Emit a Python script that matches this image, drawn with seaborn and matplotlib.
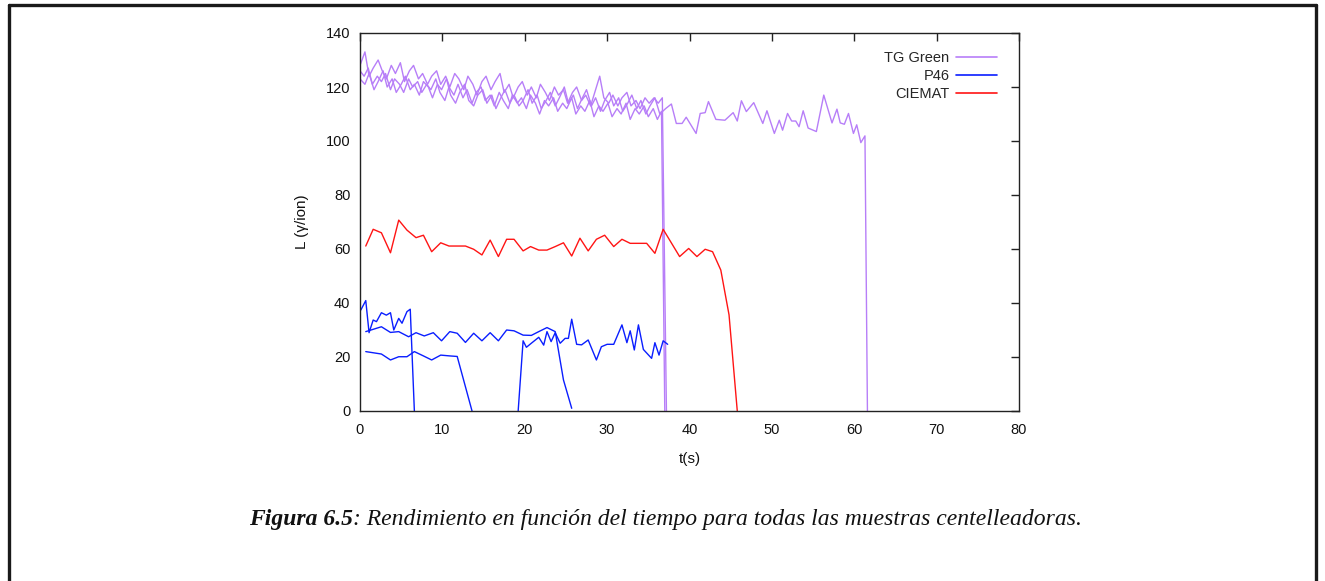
import matplotlib
matplotlib.use("Agg")
import matplotlib.pyplot as plt
from matplotlib.lines import Line2D
import seaborn as sns
import pandas as pd

# ---------------- data ----------------
# TG Green: three runs
tg1_t = [0.0, 0.6, 1.1, 1.6, 2.2, 2.7, 3.2, 3.8, 4.3, 4.9, 5.4, 6.0, 6.5, 7.1, 7.6, 8.2, 8.7, 9.3, 9.8,
         10.4, 10.9, 11.5, 12.0, 12.6, 13.1, 13.7, 14.2, 14.8, 15.3, 15.9, 16.4, 17.0, 17.5, 18.1, 18.6,
         19.2, 19.7, 20.3, 20.8, 21.4, 21.9, 22.5, 23.0, 23.6, 24.1, 24.7, 25.2, 25.8, 26.3, 26.9, 27.4,
         28.0, 28.5, 29.1, 29.6, 30.2, 30.7, 31.3, 31.8, 32.4, 32.9, 33.5, 34.0, 34.6, 35.1, 35.7, 36.2,
         36.7, 37.2]
tg1_L = [128, 133, 124, 127, 130, 126, 123, 128, 125, 129, 122, 126, 128, 123, 125, 121, 124, 126, 121,
         124, 120, 125, 123, 119, 124, 121, 117, 122, 124, 119, 122, 125, 118, 121, 116,
         120, 122, 117, 120, 116, 121, 118, 115, 120, 117, 119, 114, 118, 120, 115, 117,
         113, 118, 124, 116, 114, 117, 113, 116, 118, 113, 115, 112, 116, 114, 116, 114,
         116, 0]

tg2_t = [0.0, 0.5, 1.0, 1.5, 2.1, 2.6, 3.1, 3.7, 4.2, 4.8, 5.3, 5.9, 6.4, 7.0, 7.5, 8.1, 8.6, 9.2, 9.7,
         10.3, 10.8, 11.4, 11.9, 12.5, 13.0, 13.6, 14.1, 14.7, 15.2, 15.8, 16.3, 16.9, 17.4, 18.0, 18.5,
         19.1, 19.6, 20.2, 20.7, 21.3, 21.8, 22.4, 22.9, 23.5, 24.0, 24.6, 25.1, 25.7, 26.2, 26.8, 27.3,
         27.9, 28.4, 29.0, 29.5, 30.1, 30.6, 31.2, 31.7, 32.3, 32.8, 33.4, 33.9, 34.5, 35.0, 35.6, 36.1,
         36.6, 37.0]
tg2_L = [126, 124, 127, 121, 124, 122, 125, 119, 123, 121, 118, 123, 120, 122, 118, 121, 119, 123, 118,
         115, 120, 117, 121, 116, 119, 114, 118, 120, 115, 117, 113, 118, 115, 112, 117,
         114, 116, 112, 117, 114, 110, 115, 113, 116, 111, 114, 112, 116, 110, 113, 111,
         115, 109, 113, 111, 114, 109, 112, 110, 114, 108, 112, 110, 113, 109, 112, 108,
         111, 0]

tg3_t = [0.0, 0.6, 1.1, 1.7, 2.2, 2.8, 3.3, 3.9, 4.4, 5.0, 5.5, 6.1, 6.6, 7.2, 7.7, 8.3, 8.8, 9.4, 9.9,
         10.5, 11.0, 11.6, 12.1, 12.7, 13.2, 13.8, 14.3, 14.9, 15.4, 16.0, 16.5, 17.1, 17.6, 18.2, 18.7,
         19.3, 19.8, 20.4, 20.9, 21.5, 22.0, 22.6, 23.1, 23.7, 24.2, 24.8, 25.3, 25.9, 26.4, 27.0, 27.5,
         28.1, 28.6, 29.2, 29.7, 30.3, 30.8, 31.4, 31.9, 32.5, 33.0, 33.6, 34.1, 34.7, 35.2, 35.8, 36.4,
         37.1, 37.8, 38.4, 39.1, 39.6, 40.8, 41.3, 41.9, 42.3, 43.2, 44.3, 45.3, 45.8, 46.3, 46.9, 47.8,
         48.9, 49.4, 50.3, 50.9, 51.3, 51.9, 52.4, 52.9, 53.3, 53.8, 54.4, 55.4, 56.3, 57.3, 57.9, 58.3,
         58.8, 59.3, 59.9, 60.3, 60.8, 61.3, 61.6]
tg3_L = [123, 121, 125, 119, 122, 126, 120, 123, 118, 121, 124, 119, 121, 117, 122, 120, 116, 121, 119,
         123, 117, 114, 118, 121, 115, 113, 117, 119, 114, 117, 112, 116, 119, 114, 117,
         113, 115, 119, 114, 117, 112, 115, 118, 113, 116, 120, 114, 117, 112, 116, 119,
         113, 116, 111, 115, 118, 113, 116, 111, 114, 117, 112, 115, 110, 113, 116, 110,
         112, 113.7, 106.5, 106.5, 108.8, 102.8, 110.2, 110.5, 114.6, 108.0, 107.7, 110.5, 107.4, 114.9, 110.9, 114.2,
         106.5, 111.2, 102.8, 107.7, 104.0, 110.2, 107.4, 107.4, 105.3, 111.2, 104.8, 103.5, 117.0, 106.7, 111.8, 106.7,
         106.2, 110.2, 102.8, 106.0, 99.4, 101.9, 0]

# P46: four runs
p1_t = [0.1, 0.7, 1.1, 1.6, 2.0, 2.6, 3.2, 3.7, 4.1, 4.7, 5.1, 5.7, 6.1, 6.6]
p1_L = [37.4, 40.9, 29.0, 33.7, 33.1, 36.4, 35.5, 36.4, 30.0, 34.3, 32.5, 36.8, 37.7, 0]

p2_t = [0.7, 2.6, 3.7, 4.7, 5.9, 6.8, 7.8, 8.9, 9.9, 10.9, 11.8, 12.8, 13.8, 14.8, 15.8, 16.8, 17.8,
        18.7, 19.8, 20.8, 21.7, 22.7, 23.7, 24.7, 25.7]
p2_L = [29.4, 31.2, 29.1, 29.4, 27.5, 29.0, 27.8, 29.0, 26.0, 29.4, 28.8, 25.4, 28.8, 26.0, 29.0, 26.0, 30.0,
        29.7, 28.1, 28.0, 29.4, 30.9, 29.4, 11.5, 1.0]

p3_t = [0.7, 2.6, 3.7, 4.7, 5.7, 6.6, 7.7, 8.7, 9.8, 10.9, 11.8, 13.6]
p3_L = [22.0, 21.1, 18.9, 20.1, 20.1, 22.0, 20.4, 18.9, 20.7, 20.4, 20.2, 0]

p4_t = [19.2, 19.8, 20.2, 20.8, 21.7, 22.3, 22.7, 23.2, 23.7, 24.3, 24.9, 25.3, 25.7, 26.3, 26.9, 27.7,
        28.7, 29.3, 30.0, 30.8, 31.8, 32.4, 32.8, 33.3, 33.8, 34.4, 35.4, 35.8, 36.3, 36.8, 37.35]
p4_L = [0, 26.0, 23.6, 25.1, 27.3, 24.4, 29.4, 25.7, 29.0, 25.1, 26.9, 26.9, 34.0, 24.7, 24.5, 26.3,
        18.9, 23.8, 24.7, 24.7, 31.9, 25.3, 29.7, 22.6, 31.9, 22.8, 19.5, 25.3, 20.7, 26.0, 24.7]

# CIEMAT: one run
c1_t = [0.7, 1.6, 2.6, 3.7, 4.7, 5.7, 6.8, 7.7, 8.7, 9.8, 10.8, 12.8, 13.8, 14.8, 15.8, 16.8, 17.8,
        18.7, 19.8, 20.7, 21.7, 22.7, 23.7, 24.7, 25.7, 26.7, 27.7, 28.7, 29.7, 30.8, 31.8, 32.8, 34.8,
        35.8, 36.8, 38.8, 39.9, 40.9, 41.9, 42.8, 43.8, 44.8, 45.8]
c1_L = [61.1, 67.3, 66.0, 58.6, 70.7, 67.0, 64.2, 65.1, 59.0, 62.3, 61.1, 61.1, 59.9, 57.8, 63.3, 57.2, 63.6,
        63.6, 59.3, 60.9, 59.6, 59.6, 60.9, 62.3, 57.4, 64.0, 59.3, 63.6, 65.1, 60.9, 63.6, 62.1, 62.1,
        58.4, 67.3, 57.2, 60.2, 57.2, 59.9, 59.0, 52.2, 35.6, 0]

series_names = ["TG Green", "P46", "CIEMAT"]
series_colors = ["#b77ef8", "#0a1eff", "#ff1414"]
x_ticks = [0, 10, 20, 30, 40, 50, 60, 70, 80]
y_ticks = [0, 20, 40, 60, 80, 100, 120, 140]

runs = [
    ("TG Green", "tg1", tg1_t, tg1_L),
    ("TG Green", "tg2", tg2_t, tg2_L),
    ("TG Green", "tg3", tg3_t, tg3_L),
    ("P46", "p1", p1_t, p1_L),
    ("P46", "p2", p2_t, p2_L),
    ("P46", "p3", p3_t, p3_L),
    ("P46", "p4", p4_t, p4_L),
    ("CIEMAT", "c1", c1_t, c1_L),
]
frames = []
for name, run, tt, LL in runs:
    frames.append(pd.DataFrame({"t": tt, "L": LL, "serie": name, "run": run}))
df = pd.concat(frames, ignore_index=True)

# ---------------- plot ----------------
sns.set_theme(style="white")
plt.rcParams["font.family"] = ["Liberation Sans", "DejaVu Sans"]

W, H = 1325, 581
fig = plt.figure(figsize=(W / 100, H / 100), dpi=100)
ax = fig.add_axes([360 / W, 1 - 411 / H, (1019 - 360) / W, (411 - 33) / H])

sns.lineplot(data=df, x="t", y="L", hue="serie", units="run", estimator=None, sort=False,
             hue_order=series_names, palette=dict(zip(series_names, series_colors)),
             linewidth=1.0, ax=ax)

ax.set_xlim(0, 80)
ax.set_ylim(0, 140)
ax.set_xticks(x_ticks)
ax.set_yticks(y_ticks)
ax.tick_params(axis="x", which="major", pad=9)
ax.tick_params(axis="both", which="major", direction="in", length=6, width=1, color="#222222",
               labelsize=10.5, labelcolor="#111111", top=True, right=True)
ax.tick_params(axis="y", which="major", pad=7)
for sp in ax.spines.values():
    sp.set_visible(True)
    sp.set_color("#222222")
    sp.set_linewidth(1.0)

ax.set_xlabel("t(s)", fontsize=11, color="#111111", labelpad=10.5)
ax.set_ylabel("L (γ/ion)", fontsize=11, color="#111111", labelpad=12)

leg = ax.legend(loc="upper right", bbox_to_anchor=(0.982, 0.979), frameon=False, markerfirst=False,
                fontsize=10.5, handlelength=2.8, handletextpad=0.45, labelspacing=0.28,
                borderaxespad=0.3)
for line in leg.get_lines():
    line.set_linewidth(1.2)

# caption
cap_y = 1 - 519 / H
cap_kw = dict(fontsize=17, fontstyle="italic", family=["Liberation Serif", "DejaVu Serif"],
              va="center", color="#111111")
t1 = fig.text(0, cap_y, "Figura 6.5", fontweight="bold", ha="left", **cap_kw)
t2 = fig.text(0, cap_y, ": Rendimiento en función del tiempo para todas las muestras centelleadoras.",
              ha="left", **cap_kw)
fig.canvas.draw()
r = fig.canvas.get_renderer()
w1 = t1.get_window_extent(renderer=r).width
w2 = t2.get_window_extent(renderer=r).width
x0 = 665 - (w1 + w2) / 2
t1.set_x(x0 / W)
t2.set_x((x0 + w1) / W)

# page frame lines
lw = 2.4
fig.add_artist(Line2D([8.5 / W, 8.5 / W], [0, 1 - 5 / H], transform=fig.transFigure, color="#1a1a1a", lw=lw))
fig.add_artist(Line2D([8.5 / W, 1315.5 / W], [1 - 5 / H, 1 - 5 / H], transform=fig.transFigure, color="#1a1a1a", lw=lw))
fig.add_artist(Line2D([1315.5 / W, 1315.5 / W], [0, 1 - 5 / H], transform=fig.transFigure, color="#1a1a1a", lw=lw))

fig.savefig("out.png", dpi=100)
